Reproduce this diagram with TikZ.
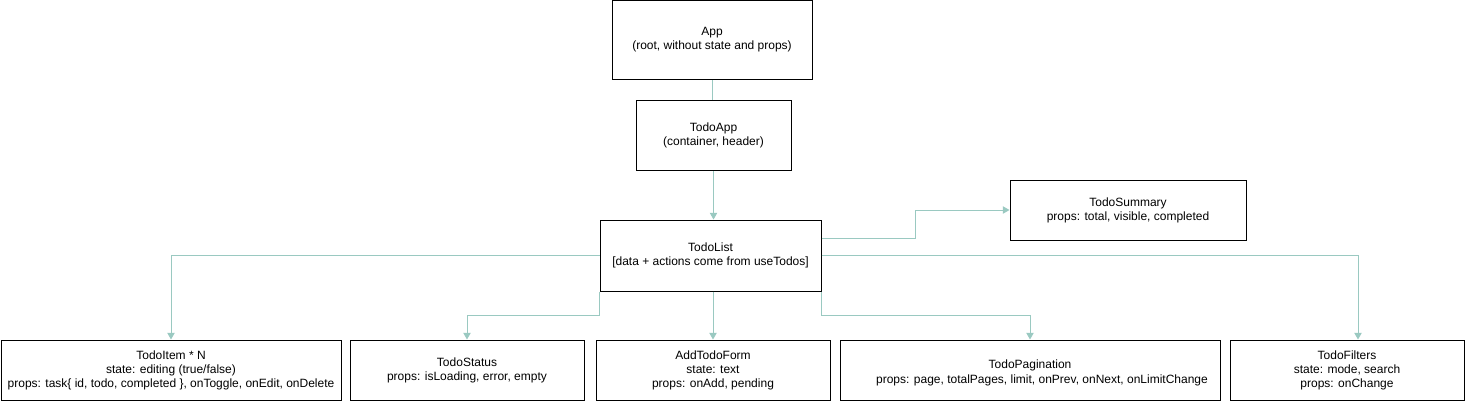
\documentclass[tikz,border=0pt]{standalone}
\usepackage{fontspec}
\setmainfont{Liberation Sans}
\usetikzlibrary{arrows.meta}

\definecolor{linkcol}{HTML}{9AC9C1}

\begin{document}
\begin{tikzpicture}[
  x=0.75pt, y=-0.75pt,
  comp/.style={draw, line width=0.75pt, align=center, inner sep=0pt,
    font=\fontsize{9}{10.5}\selectfont},
  link/.style={draw=linkcol, line width=0.75pt},
  arr/.style={-{Triangle[length=5pt,width=5.5pt]}, linkcol},
]

\useasboundingbox (0,0) rectangle (1466,401);

\node [comp, minimum width=200*0.75pt, minimum height=79*0.75pt] (App) at (712,40)
  {App\\(root, without state and props)};
\node [comp, minimum width=155*0.75pt, minimum height=70*0.75pt] (TodoApp) at (713.5,135.5)
  {TodoApp\\(container, header)};
\node [comp, minimum width=221*0.75pt, minimum height=71*0.75pt] (TodoList) at (710.5,255.5)
  {TodoList\\{}[data + actions come from useTodos]};
\node [comp, minimum width=236*0.75pt, minimum height=60*0.75pt] (TodoSummary) at (1128,210)
  {TodoSummary\\props: total, visible, completed};

\node [comp, minimum width=340*0.75pt, minimum height=60*0.75pt] (TodoItem) at (171,370)
  {TodoItem * N\\state: editing (true/false)\\props: task\{ id, todo, completed \}, onToggle, onEdit, onDelete};
\node [comp, minimum width=234*0.75pt, minimum height=60*0.75pt] (TodoStatus) at (467,370)
  {TodoStatus\\props: isLoading, error, empty};
\node [comp, minimum width=234*0.75pt, minimum height=60*0.75pt] (AddTodoForm) at (713,370)
  {AddTodoForm\\state: text\\props: onAdd, pending};
\node [comp, minimum width=380*0.75pt, minimum height=60*0.75pt] (TodoPagination) at (1030,370)
  {\vphantom{Tg}\\[-6pt]TodoPagination\\[1pt]\hspace*{18pt}props: page, totalPages, limit, onPrev, onNext, onLimitChange};
\node [comp, minimum width=234*0.75pt, minimum height=60*0.75pt] (TodoFilters) at (1347,370)
  {TodoFilters\\state: mode, search\\props: onChange};

% top chain
\draw [link] (App.south) -- (App.south |- TodoApp.north);
\draw [link, arr] (TodoApp.south) -- (TodoApp.south |- TodoList.north);

% from TodoList
\draw [link, arr] (TodoList.east |- 0,238) -- ++(94,0) |- (TodoSummary.west);
\draw [link, arr] (TodoList.west) -| (TodoItem.north);
\draw [link, arr] (TodoList.south west) -- ++(0,24) -| (TodoStatus.north);
\draw [link, arr] (TodoList.south -| AddTodoForm.north) -- (AddTodoForm.north);
\draw [link, arr] (TodoList.south east) -- ++(0,24) -| (TodoPagination.north);
\draw [link, arr] (TodoList.east) -| ([xshift=8.25pt]TodoFilters.north);

\end{tikzpicture}
\end{document}
